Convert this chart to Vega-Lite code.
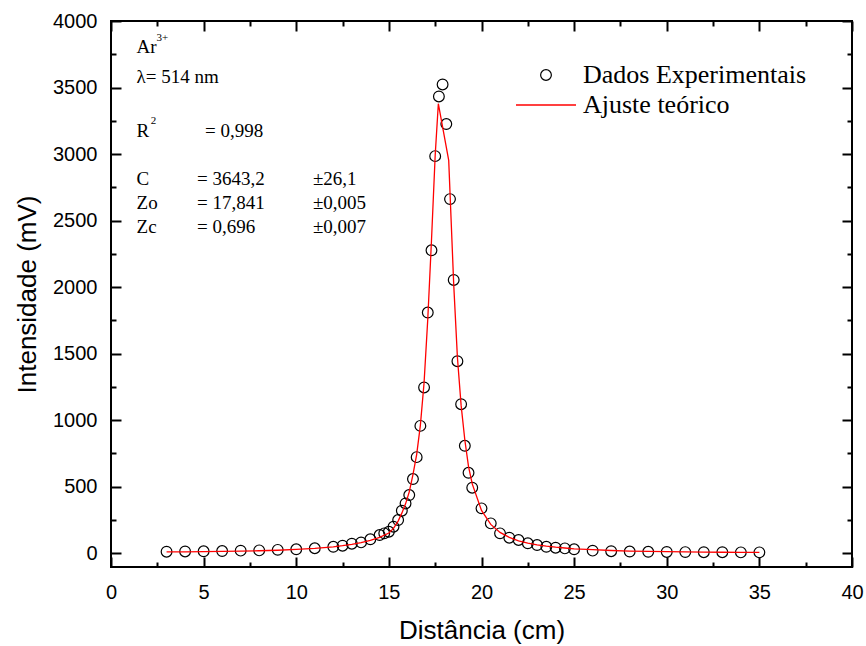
{
  "$schema": "https://vega.github.io/schema/vega-lite/v6.json",
  "width": 741,
  "height": 546,
  "autosize": {"type": "none"},
  "padding": {"left": 111, "top": 21, "right": 14, "bottom": 79},
  "background": "white",
  "view": {"stroke": "black", "strokeWidth": 2},
  "config": {
    "axis": {"grid": false, "domain": false, "labelColor": "black", "titleColor": "black", "tickColor": "black", "labelFont": "Liberation Sans", "titleFont": "Liberation Sans", "labelFlush": false, "labelOverlap": false, "titleFontWeight": "normal"},
    "legend": {"title": null, "padding": 0, "clipHeight": 30, "rowPadding": 0, "labelFont": "Liberation Serif", "labelFontSize": 26, "labelColor": "black", "labelLimit": 0, "orient": "none"},
    "text": {"font": "Liberation Serif", "fontSize": 19, "color": "black", "align": "left"}
  },
  "datasets": {
    "dados": [
      {"x": 3, "y": 10}, {"x": 4, "y": 12}, {"x": 5, "y": 13}, {"x": 6, "y": 15}, {"x": 7, "y": 18},
      {"x": 8, "y": 20}, {"x": 9, "y": 24}, {"x": 10, "y": 28}, {"x": 11, "y": 36}, {"x": 12, "y": 47},
      {"x": 12.5, "y": 55}, {"x": 13, "y": 70}, {"x": 13.5, "y": 80}, {"x": 14, "y": 103}, {"x": 14.5, "y": 135},
      {"x": 14.75, "y": 148}, {"x": 15, "y": 160}, {"x": 15.25, "y": 198}, {"x": 15.5, "y": 248}, {"x": 15.7, "y": 318},
      {"x": 15.9, "y": 373}, {"x": 16.1, "y": 436}, {"x": 16.3, "y": 556}, {"x": 16.5, "y": 721}, {"x": 16.7, "y": 956},
      {"x": 16.9, "y": 1245}, {"x": 17.1, "y": 1808}, {"x": 17.3, "y": 2276}, {"x": 17.5, "y": 2984}, {"x": 17.7, "y": 3433},
      {"x": 17.9, "y": 3523}, {"x": 18.1, "y": 3225}, {"x": 18.3, "y": 2661}, {"x": 18.5, "y": 2053}, {"x": 18.7, "y": 1442},
      {"x": 18.9, "y": 1119}, {"x": 19.1, "y": 806}, {"x": 19.3, "y": 603}, {"x": 19.5, "y": 491}, {"x": 20, "y": 336},
      {"x": 20.5, "y": 223}, {"x": 21, "y": 148}, {"x": 21.5, "y": 115}, {"x": 22, "y": 98}, {"x": 22.5, "y": 73},
      {"x": 23, "y": 60}, {"x": 23.5, "y": 47}, {"x": 24, "y": 40}, {"x": 24.5, "y": 35}, {"x": 25, "y": 28},
      {"x": 26, "y": 18}, {"x": 27, "y": 14}, {"x": 28, "y": 11}, {"x": 29, "y": 9}, {"x": 30, "y": 8},
      {"x": 31, "y": 7}, {"x": 32, "y": 6}, {"x": 33, "y": 6}, {"x": 34, "y": 5}, {"x": 35, "y": 5}
    ],
    "ajuste": [
      {"x": 3, "y": 8}, {"x": 4, "y": 9}, {"x": 5, "y": 10}, {"x": 6, "y": 12}, {"x": 7, "y": 14},
      {"x": 8, "y": 17}, {"x": 9, "y": 21}, {"x": 10, "y": 27}, {"x": 11, "y": 35}, {"x": 12, "y": 47},
      {"x": 12.5, "y": 55}, {"x": 13, "y": 65}, {"x": 13.5, "y": 78}, {"x": 14, "y": 95}, {"x": 14.5, "y": 118},
      {"x": 15, "y": 150}, {"x": 15.25, "y": 185}, {"x": 15.5, "y": 240}, {"x": 15.7, "y": 300}, {"x": 15.9, "y": 370},
      {"x": 16.1, "y": 460}, {"x": 16.3, "y": 590}, {"x": 16.5, "y": 740}, {"x": 16.7, "y": 960}, {"x": 16.9, "y": 1280},
      {"x": 17.1, "y": 1760}, {"x": 17.3, "y": 2350}, {"x": 17.5, "y": 2990}, {"x": 17.67, "y": 3378}, {"x": 18.23, "y": 2952},
      {"x": 18.5, "y": 2020}, {"x": 18.7, "y": 1470}, {"x": 18.9, "y": 1110}, {"x": 19.1, "y": 850}, {"x": 19.3, "y": 650},
      {"x": 19.5, "y": 520}, {"x": 20, "y": 320}, {"x": 20.5, "y": 215}, {"x": 21, "y": 155}, {"x": 21.5, "y": 118},
      {"x": 22, "y": 92}, {"x": 22.5, "y": 75}, {"x": 23, "y": 62}, {"x": 23.5, "y": 52}, {"x": 24, "y": 44},
      {"x": 24.5, "y": 38}, {"x": 25, "y": 32}, {"x": 26, "y": 25}, {"x": 27, "y": 19}, {"x": 28, "y": 15},
      {"x": 29, "y": 12}, {"x": 30, "y": 10}, {"x": 31, "y": 8}, {"x": 32, "y": 7}, {"x": 33, "y": 6},
      {"x": 34, "y": 5}, {"x": 35, "y": 5}
    ],
    "one": [{}]
  },
  "layer": [
    {
      "data": {"name": "dados"},
      "mark": {"type": "point", "filled": false, "size": 115, "strokeWidth": 1.2, "opacity": 1},
      "encoding": {
        "x": {"field": "x", "type": "quantitative", "scale": {"domain": [0, 40], "nice": false, "zero": false},
          "axis": {"orient": "bottom", "values": [0, 5, 10, 15, 20, 25, 30, 35, 40], "format": "d", "ticks": false, "labelFontSize": 20, "labelPadding": 15, "title": "Distância (cm)", "titleFontSize": 26, "titlePadding": 15}},
        "y": {"field": "y", "type": "quantitative", "scale": {"domain": [-105, 4000], "nice": false, "zero": false},
          "axis": {"orient": "left", "values": [0, 500, 1000, 1500, 2000, 2500, 3000, 3500, 4000], "format": "d", "ticks": false, "labelFontSize": 20, "labelPadding": 14, "title": "Intensidade (mV)", "titleFontSize": 26, "titlePadding": 12}},
        "color": {"datum": "Dados Experimentais", "type": "nominal",
          "scale": {"domain": ["Dados Experimentais"], "range": ["#000000"]},
          "legend": {"legendX": 422, "legendY": 39, "labelOffset": 24, "symbolType": "circle", "symbolSize": 115, "symbolStrokeWidth": 1.2, "symbolStrokeColor": "#000000", "symbolFillColor": "transparent"}}
      }
    },
    {
      "data": {"name": "ajuste"},
      "mark": {"type": "line", "strokeWidth": 1.3},
      "encoding": {
        "x": {"field": "x", "type": "quantitative", "scale": {"domain": [0, 40], "nice": false, "zero": false},
          "axis": {"orient": "bottom", "values": [0, 5, 10, 15, 20, 25, 30, 35, 40], "labels": false, "tickSize": -10, "tickWidth": 2, "title": null}},
        "y": {"field": "y", "type": "quantitative", "scale": {"domain": [-105, 4000], "nice": false, "zero": false},
          "axis": {"orient": "left", "values": [0, 500, 1000, 1500, 2000, 2500, 3000, 3500, 4000], "labels": false, "tickSize": -10, "tickWidth": 2, "title": null}},
        "stroke": {"datum": "Ajuste teórico", "type": "nominal",
          "scale": {"domain": ["Ajuste teórico"], "range": ["#ff0000"]},
          "legend": {"legendX": 404, "legendY": 69, "labelOffset": 6, "symbolType": "stroke", "symbolSize": 3600, "symbolStrokeWidth": 1.3, "symbolStrokeColor": "#ff0000"}}
      }
    },
    {
      "data": {"name": "ajuste"},
      "mark": {"type": "point", "opacity": 0},
      "encoding": {
        "x": {"field": "x", "type": "quantitative", "axis": {"orient": "bottom", "values": [2.5, 7.5, 12.5, 17.5, 22.5, 27.5, 32.5, 37.5], "labels": false, "tickSize": -5, "tickWidth": 2, "title": null}},
        "y": {"field": "y", "type": "quantitative", "axis": {"orient": "left", "values": [250, 750, 1250, 1750, 2250, 2750, 3250, 3750], "labels": false, "tickSize": -5, "tickWidth": 2, "title": null}}
      }
    },
    {
      "data": {"name": "ajuste"},
      "mark": {"type": "point", "opacity": 0},
      "encoding": {
        "x": {"field": "x", "type": "quantitative", "axis": {"orient": "top", "values": [0, 5, 10, 15, 20, 25, 30, 35, 40], "labels": false, "tickSize": -10, "tickWidth": 2, "title": null}},
        "y": {"field": "y", "type": "quantitative", "axis": {"orient": "right", "values": [0, 500, 1000, 1500, 2000, 2500, 3000, 3500, 4000], "labels": false, "tickSize": -10, "tickWidth": 2, "title": null}}
      }
    },
    {
      "data": {"name": "ajuste"},
      "mark": {"type": "point", "opacity": 0},
      "encoding": {
        "x": {"field": "x", "type": "quantitative", "axis": {"orient": "top", "values": [2.5, 7.5, 12.5, 17.5, 22.5, 27.5, 32.5, 37.5], "labels": false, "tickSize": -5, "tickWidth": 2, "title": null}},
        "y": {"field": "y", "type": "quantitative", "axis": {"orient": "right", "values": [250, 750, 1250, 1750, 2250, 2750, 3250, 3750], "labels": false, "tickSize": -5, "tickWidth": 2, "title": null}}
      }
    },
    {
      "data": {"name": "one"},
      "mark": {"type": "text", "text": "Ar", "baseline": "alphabetic"},
      "encoding": {"x": {"datum": 1.38, "type": "quantitative", "axis": null}, "y": {"datum": 3756, "type": "quantitative", "axis": null}}
    },
    {
      "data": {"name": "one"},
      "mark": {"type": "text", "text": "3+", "baseline": "alphabetic", "fontSize": 11},
      "encoding": {"x": {"datum": 2.45, "type": "quantitative", "axis": null}, "y": {"datum": 3846, "type": "quantitative", "axis": null}}
    },
    {
      "data": {"name": "one"},
      "mark": {"type": "text", "text": "λ= 514 nm", "baseline": "alphabetic"},
      "encoding": {"x": {"datum": 1.38, "type": "quantitative", "axis": null}, "y": {"datum": 3531, "type": "quantitative", "axis": null}}
    },
    {
      "data": {"name": "one"},
      "mark": {"type": "text", "text": "R", "baseline": "alphabetic"},
      "encoding": {"x": {"datum": 1.38, "type": "quantitative", "axis": null}, "y": {"datum": 3125, "type": "quantitative", "axis": null}}
    },
    {
      "data": {"name": "one"},
      "mark": {"type": "text", "text": "2", "baseline": "alphabetic", "fontSize": 11},
      "encoding": {"x": {"datum": 2.15, "type": "quantitative", "axis": null}, "y": {"datum": 3223, "type": "quantitative", "axis": null}}
    },
    {
      "data": {"name": "one"},
      "mark": {"type": "text", "text": "= 0,998", "baseline": "alphabetic"},
      "encoding": {"x": {"datum": 5.07, "type": "quantitative", "axis": null}, "y": {"datum": 3125, "type": "quantitative", "axis": null}}
    },
    {
      "data": {"name": "one"},
      "mark": {"type": "text", "text": ["C", "Zo", "Zc"], "baseline": "top", "lineHeight": 24},
      "encoding": {"x": {"datum": 1.38, "type": "quantitative", "axis": null}, "y": {"datum": 2880, "type": "quantitative", "axis": null}}
    },
    {
      "data": {"name": "one"},
      "mark": {"type": "text", "text": ["= 3643,2", "= 17,841", "= 0,696"], "baseline": "top", "lineHeight": 24},
      "encoding": {"x": {"datum": 4.64, "type": "quantitative", "axis": null}, "y": {"datum": 2880, "type": "quantitative", "axis": null}}
    },
    {
      "data": {"name": "one"},
      "mark": {"type": "text", "text": ["±26,1", "±0,005", "±0,007"], "baseline": "top", "lineHeight": 24},
      "encoding": {"x": {"datum": 10.9, "type": "quantitative", "axis": null}, "y": {"datum": 2880, "type": "quantitative", "axis": null}}
    }
  ],
  "resolve": {"axis": {"x": "independent", "y": "independent"}}
}
